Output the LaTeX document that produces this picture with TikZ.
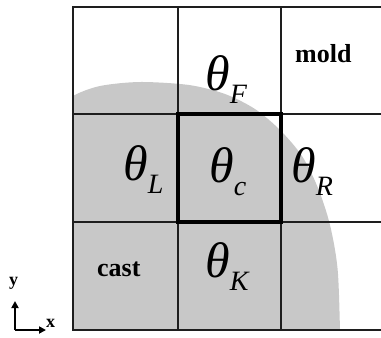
\documentclass[tikz,border=0pt]{standalone}
\usepackage{fontspec}
\setmainfont{Liberation Serif}
\usetikzlibrary{arrows.meta}
\definecolor{castgray}{RGB}{200,200,200}
\definecolor{gridline}{RGB}{30,30,30}
\newcommand\thsub[1]{θ\raisebox{-13pt}{\fontsize{28}{28}\selectfont #1}}
\begin{document}
\begin{tikzpicture}[x=1pt,y=-1pt,
  gridl/.style={draw=gridline,line width=1.5pt},
  centerbox/.style={draw=black,line width=3.5pt},
  theta/.style={inner sep=0pt,anchor=base west,font=\fontsize{50}{50}\selectfont\itshape},
  word/.style={inner sep=0pt,anchor=base west,font=\fontsize{26}{26}\selectfont\bfseries},
  axlab/.style={inner sep=0pt,anchor=base west,font=\fontsize{18}{18}\selectfont\bfseries},
  axarrow/.style={line width=1.8pt,-{Triangle[length=7pt,width=7pt]}}]
\useasboundingbox (0,0) rectangle (381,338);
% cast region
\begin{scope}
\clip (73,7) rectangle (381,330);
\fill[castgray] plot[smooth] coordinates {(60,110) (73,96) (100,86) (140,82) (189,85) (225,94) (255,109) (280,130) (302,156) (318,188) (330,225) (337.6,269) (340,330) (340,345)} -- (60,345) -- cycle;
\end{scope}
% grid
\draw[gridl] (381,7) -- (73,7) -- (73,330) -- (381,330);
\draw[gridl] (73,114) -- (381,114);
\draw[gridl] (73,222) -- (381,222);
\draw[gridl] (178,7) -- (178,330);
\draw[gridl] (281,7) -- (281,330);
\draw[centerbox] (178,114) rectangle (281,222);
% labels
\node[theta] (tF) at (205,90) {\thsub{F}};
\node[theta] (tL) at (123,180) {\thsub{L}};
\node[theta] (tc) at (209,182) {\thsub{c}};
\node[theta] (tR) at (291,182) {\thsub{R}};
\node[theta] (tK) at (205,277) {\thsub{K}};
\node[word] (mold) at (295,62) {mold};
\node[word] (cast) at (97,276) {cast};
% axes
\coordinate (o) at (15,330);
\coordinate (yend) at (15,301);
\coordinate (xend) at (46,330);
\draw[axarrow] (o) -- (yend);
\draw[axarrow] (o) -- (xend);
\node[axlab] (ylab) at (9,285) {y};
\node[axlab] (xlab) at (46,327) {x};
\end{tikzpicture}
\end{document}
